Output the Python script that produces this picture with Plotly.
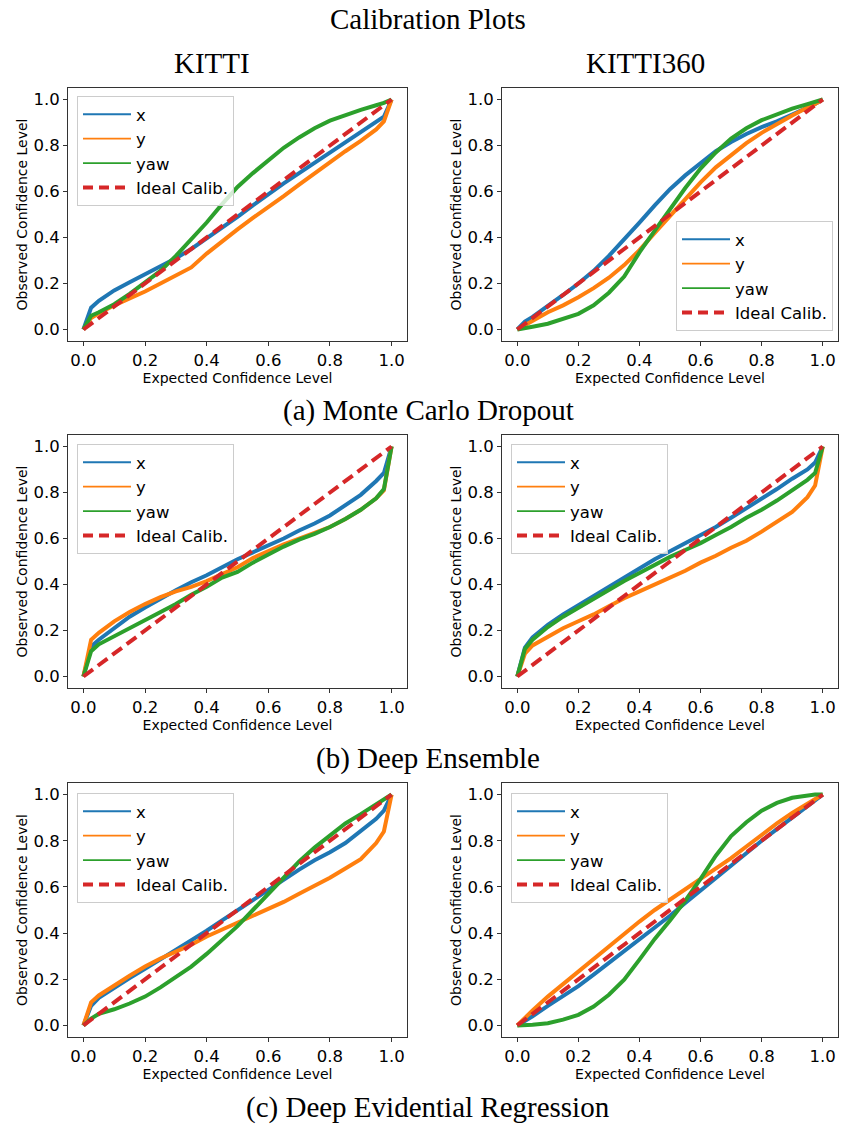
import plotly.graph_objects as go

# ---------------- data ----------------
conf = [0, 0.025, 0.05, 0.1, 0.15, 0.2, 0.25, 0.3, 0.35, 0.4, 0.45, 0.5,
        0.55, 0.6, 0.65, 0.7, 0.75, 0.8, 0.85, 0.9, 0.95, 0.975, 1.0]
ideal = [0.0, 1.0]
ideal_x = [0.0, 1.0]

# (a) Monte Carlo Dropout
mc_kitti_x = [0, 0.095, 0.125, 0.17, 0.205, 0.24, 0.275, 0.31, 0.35, 0.395, 0.44, 0.49,
              0.54, 0.59, 0.635, 0.68, 0.725, 0.77, 0.815, 0.86, 0.9, 0.925, 1.0]
mc_kitti_y = [0, 0.05, 0.07, 0.105, 0.135, 0.165, 0.2, 0.235, 0.27, 0.33, 0.385, 0.435,
              0.485, 0.53, 0.58, 0.63, 0.68, 0.725, 0.775, 0.82, 0.87, 0.905, 1.0]
mc_kitti_yaw = [0, 0.06, 0.075, 0.11, 0.155, 0.205, 0.255, 0.32, 0.39, 0.465, 0.545, 0.62,
                0.68, 0.735, 0.79, 0.835, 0.875, 0.908, 0.932, 0.955, 0.975, 0.985, 1.0]

mc_k360_x = [0, 0.035, 0.055, 0.1, 0.15, 0.2, 0.255, 0.32, 0.39, 0.465, 0.54, 0.61,
             0.67, 0.725, 0.775, 0.815, 0.85, 0.88, 0.905, 0.935, 0.965, 0.98, 1.0]
mc_k360_y = [0, 0.02, 0.04, 0.075, 0.105, 0.14, 0.18, 0.225, 0.28, 0.345, 0.42, 0.495,
             0.57, 0.64, 0.705, 0.76, 0.81, 0.855, 0.895, 0.93, 0.965, 0.98, 1.0]
mc_k360_yaw = [0, 0.005, 0.012, 0.025, 0.045, 0.068, 0.105, 0.16, 0.23, 0.335, 0.43, 0.525,
               0.615, 0.7, 0.77, 0.83, 0.875, 0.91, 0.935, 0.96, 0.98, 0.99, 1.0]

# (b) Deep Ensemble
de_kitti_x = [0, 0.13, 0.16, 0.21, 0.26, 0.3, 0.34, 0.375, 0.41, 0.44, 0.475, 0.51,
              0.54, 0.57, 0.6, 0.635, 0.665, 0.7, 0.745, 0.79, 0.85, 0.885, 1.0]
de_kitti_y = [0, 0.16, 0.19, 0.24, 0.28, 0.315, 0.345, 0.37, 0.39, 0.415, 0.445, 0.475,
              0.515, 0.545, 0.575, 0.6, 0.625, 0.65, 0.685, 0.725, 0.775, 0.81, 1.0]
de_kitti_yaw = [0, 0.11, 0.14, 0.175, 0.21, 0.245, 0.28, 0.315, 0.355, 0.39, 0.43, 0.455,
                0.495, 0.53, 0.565, 0.595, 0.62, 0.65, 0.685, 0.725, 0.775, 0.815, 1.0]

de_k360_x = [0, 0.125, 0.17, 0.225, 0.27, 0.31, 0.35, 0.395, 0.435, 0.475, 0.51, 0.545,
             0.58, 0.615, 0.65, 0.69, 0.73, 0.775, 0.815, 0.86, 0.9, 0.93, 1.0]
de_k360_y = [0, 0.1, 0.135, 0.175, 0.21, 0.24, 0.27, 0.305, 0.34, 0.37, 0.4, 0.43,
             0.46, 0.495, 0.525, 0.56, 0.59, 0.63, 0.67, 0.715, 0.78, 0.83, 1.0]
de_k360_yaw = [0, 0.12, 0.16, 0.215, 0.26, 0.3, 0.335, 0.375, 0.415, 0.45, 0.485, 0.52,
               0.55, 0.58, 0.615, 0.65, 0.69, 0.725, 0.765, 0.81, 0.855, 0.885, 1.0]

# (c) Deep Evidential Regression
der_kitti_x = [0, 0.085, 0.12, 0.165, 0.205, 0.245, 0.285, 0.33, 0.37, 0.41, 0.455, 0.5,
               0.545, 0.59, 0.635, 0.675, 0.715, 0.75, 0.79, 0.84, 0.895, 0.93, 1.0]
der_kitti_y = [0, 0.1, 0.13, 0.175, 0.215, 0.255, 0.29, 0.32, 0.35, 0.385, 0.415, 0.445,
               0.475, 0.505, 0.535, 0.57, 0.605, 0.64, 0.68, 0.72, 0.79, 0.84, 1.0]
der_kitti_yaw = [0, 0.03, 0.05, 0.07, 0.095, 0.125, 0.165, 0.21, 0.255, 0.31, 0.37, 0.43,
                 0.5, 0.57, 0.64, 0.71, 0.77, 0.825, 0.875, 0.915, 0.955, 0.975, 1.0]

der_k360_x = [0, 0.02, 0.04, 0.085, 0.128, 0.17, 0.22, 0.27, 0.32, 0.375, 0.425, 0.475,
              0.53, 0.585, 0.64, 0.695, 0.75, 0.8, 0.85, 0.9, 0.95, 0.975, 1.0]
der_k360_y = [0, 0.035, 0.065, 0.125, 0.18, 0.235, 0.29, 0.342, 0.395, 0.45, 0.5, 0.545,
              0.59, 0.63, 0.675, 0.725, 0.775, 0.827, 0.875, 0.92, 0.96, 0.98, 1.0]
der_k360_yaw = [0, 0.0, 0.003, 0.01, 0.025, 0.046, 0.082, 0.133, 0.198, 0.285, 0.375, 0.455,
                0.54, 0.635, 0.735, 0.82, 0.88, 0.93, 0.964, 0.986, 0.997, 1.0, 1.0]

series_names = ["x", "y", "yaw"]
series_colors = ["#1f77b4", "#ff7f0e", "#2ca02c"]
ideal_name = "Ideal Calib."
ideal_color = "#d62728"

panels = [
    [mc_kitti_x, mc_kitti_y, mc_kitti_yaw],
    [mc_k360_x, mc_k360_y, mc_k360_yaw],
    [de_kitti_x, de_kitti_y, de_kitti_yaw],
    [de_k360_x, de_k360_y, de_k360_yaw],
    [der_kitti_x, der_kitti_y, der_kitti_yaw],
    [der_k360_x, der_k360_y, der_k360_yaw],
]

column_titles = ["KITTI", "KITTI360"]
row_captions = ["(a) Monte Carlo Dropout", "(b) Deep Ensemble", "(c) Deep Evidential Regression"]
main_title = "Calibration Plots"
tick_vals = [0.0, 0.2, 0.4, 0.6, 0.8, 1.0]

# ---------------- layout geometry (pixels) ----------------
W, H = 841, 1127
col_px = [(68, 407), (502, 838)]
row_px = [(88, 341), (435, 688), (783, 1037)]
legend_px = [(77, 96, "top"), (676, 331, "bottom"),
             (77, 444, "top"), (511, 444, "top"),
             (77, 793, "top"), (511, 793, "top")]

fig = go.Figure()
AX = "#333333"
tick_font = dict(family="DejaVu Sans", size=16.5, color="black")
label_font = dict(family="DejaVu Sans", size=14, color="black")

for i, data in enumerate(panels):
    r, c = divmod(i, 2)
    n = i + 1
    xa = "x" if n == 1 else f"x{n}"
    ya = "y" if n == 1 else f"y{n}"
    lg = "legend" if n == 1 else f"legend{n}"
    for name, color, vals in zip(series_names, series_colors, data):
        fig.add_trace(go.Scatter(x=conf, y=vals, mode="lines", xaxis=xa, yaxis=ya,
                                 line=dict(color=color, width=4), showlegend=False,
                                 hoverinfo="skip"))
    fig.add_trace(go.Scatter(x=ideal_x, y=ideal, mode="lines", xaxis=xa, yaxis=ya,
                             line=dict(color=ideal_color, width=4, dash="12px,6px"),
                             showlegend=False, hoverinfo="skip"))
    # legend entries (thin sample lines, as in the original legend)
    for name, color in zip(series_names, series_colors):
        fig.add_trace(go.Scatter(x=[None], y=[None], mode="lines", xaxis=xa, yaxis=ya,
                                 name=name, legend=lg,
                                 line=dict(color=color, width=1.8)))
    fig.add_trace(go.Scatter(x=[None], y=[None], mode="lines", xaxis=xa, yaxis=ya,
                             name=ideal_name, legend=lg,
                             line=dict(color=ideal_color, width=4, dash="10px,6px")))

    x0, x1 = col_px[c]
    y0, y1 = row_px[r]
    axis_common = dict(range=[-0.05, 1.05], tickvals=tick_vals, tickformat=".1f",
                       showline=True, mirror=True, linecolor=AX, linewidth=1,
                       ticks="outside", ticklen=4, tickwidth=1, tickcolor=AX,
                       showgrid=False, zeroline=False, tickfont=tick_font)
    fig.layout[("xaxis" if n == 1 else f"xaxis{n}")] = dict(
        domain=[x0 / W, x1 / W], anchor=ya,
        title=dict(text="Expected Confidence Level", font=label_font, standoff=0),
        **axis_common)
    fig.layout[("yaxis" if n == 1 else f"yaxis{n}")] = dict(
        domain=[1 - y1 / H, 1 - y0 / H], anchor=xa,
        title=dict(text="Observed Confidence Level", font=label_font, standoff=2),
        **axis_common)
    lx, ly, anc = legend_px[i]
    fig.layout[lg] = dict(x=lx / W, y=1 - ly / H, xanchor="left", yanchor=anc,
                          bgcolor="rgba(255,255,255,0.8)", bordercolor="#cccccc",
                          borderwidth=1, font=dict(family="DejaVu Sans", size=16.5, color="black"),
                          itemwidth=48, tracegroupgap=0)

serif = "Liberation Serif"
sfont = dict(family=serif, size=29, color="black")
annotations = [
    dict(text=main_title, x=428 / W, y=1 - 19 / H, xref="paper", yref="paper",
         xanchor="center", yanchor="middle", showarrow=False, font=sfont),
    dict(text=column_titles[0], x=212 / W, y=1 - 63 / H, xref="paper", yref="paper",
         xanchor="center", yanchor="middle", showarrow=False, font=sfont),
    dict(text=column_titles[1], x=645 / W, y=1 - 63 / H, xref="paper", yref="paper",
         xanchor="center", yanchor="middle", showarrow=False, font=sfont),
]
for cap, yc in zip(row_captions, [410, 758, 1107]):
    annotations.append(dict(text=cap, x=428 / W, y=1 - yc / H, xref="paper", yref="paper",
                            xanchor="center", yanchor="middle", showarrow=False, font=sfont))

fig.update_layout(width=W, height=H, margin=dict(l=0, r=0, t=0, b=0),
                  paper_bgcolor="white", plot_bgcolor="white",
                  annotations=annotations, hovermode=False)

fig.write_html("out.html", config={"displayModeBar": False})
